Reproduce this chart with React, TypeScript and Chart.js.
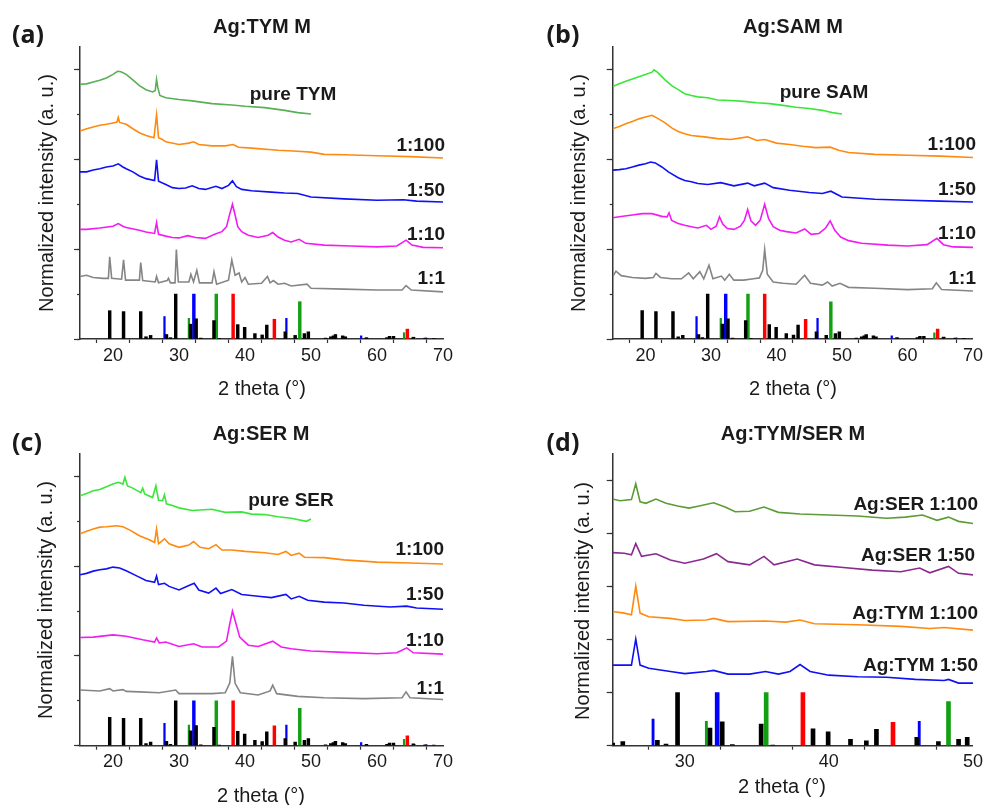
import React, { useEffect, useRef } from "react";
import { Chart, registerables } from "chart.js";

Chart.register(...registerables);

type P = [number, number];

// ---- reference stick pattern (2θ, relative height) ----
const STICK_BLACK: P[] = [
  [19.5, 0.63], [21.6, 0.61], [24.2, 0.61], [25.0, 0.05], [25.7, 0.08], [28.1, 0.1], [28.7, 0.03],
  [29.5, 1.0], [31.75, 0.33], [32.6, 0.45], [33.3, 0.02], [35.3, 0.41], [36.1, 0.01], [38.9, 0.32],
  [39.95, 0.26], [41.5, 0.12], [42.6, 0.09], [43.3, 0.31], [46.1, 0.16], [47.6, 0.08], [49.0, 0.12],
  [49.6, 0.16], [52.2, 0.02], [53.0, 0.05], [53.4, 0.07], [53.7, 0.1], [54.8, 0.07], [55.2, 0.05],
  [58.4, 0.03], [61.5, 0.03], [61.9, 0.06], [62.5, 0.06], [65.5, 0.04], [67.3, 0.02], [68.6, 0.01],
];
const STICK_BLUE: P[] = [[27.8, 0.5], [32.25, 1.0], [46.27, 0.46], [57.6, 0.07], [67.5, 0.02]];
const STICK_GREEN: P[] = [[31.5, 0.46], [35.65, 1.0], [48.3, 0.83], [64.1, 0.14], [65.7, 0.03]];
const STICK_RED: P[] = [[38.2, 1.0], [44.45, 0.44], [64.6, 0.22]];

// ---- panel (a) Ag:TYM M ----
const A_PURE: P[] = [[15,5.67],[16,5.68],[17,5.72],[18,5.76],[19,5.81],[20,5.89],[20.7,5.96],[21.2,5.95],[22,5.89],[23,5.77],[24,5.64],[25,5.55],[26,5.5],[26.4,5.53],[26.6,5.78],[26.8,5.59],[27.1,5.42],[28,5.37],[30,5.33],[32,5.3],[35,5.24],[38,5.21],[40,5.18],[43,5.15],[46,5.09],[48,5.04],[50,5.01]];
const A_100: P[] = [[15,4.63],[16,4.68],[17,4.72],[18,4.76],[19,4.78],[20,4.81],[20.6,4.83],[20.8,4.93],[21,4.82],[22,4.78],[23,4.68],[24,4.59],[25,4.53],[26.2,4.48],[26.6,4.99],[26.9,4.48],[27.5,4.44],[28,4.39],[30,4.33],[31.5,4.36],[32.2,4.39],[33,4.33],[35,4.3],[37,4.3],[38.2,4.33],[39,4.27],[41,4.25],[45,4.2],[48,4.18],[50,4.16],[52,4.11],[55,4.1],[60,4.08],[65,4.06],[70,4.03]];
const A_50: P[] = [[15,3.72],[16,3.72],[17,3.76],[18,3.79],[19,3.83],[20,3.85],[20.8,3.9],[21.5,3.83],[22,3.79],[23,3.72],[24,3.63],[25,3.57],[26.3,3.53],[26.6,3.99],[26.9,3.51],[28,3.44],[29,3.37],[30,3.35],[31,3.36],[32,3.41],[33,3.35],[34,3.33],[35.6,3.4],[36.5,3.35],[37.5,3.42],[38.1,3.52],[38.7,3.39],[39.5,3.33],[41,3.3],[44,3.27],[46,3.25],[48,3.24],[49,3.2],[50,3.16],[55,3.12],[60,3.09],[64,3.1],[66,3.07],[70,3.05]];
const A_10: P[] = [[15,2.44],[16,2.44],[18,2.47],[20,2.51],[20.8,2.57],[21.5,2.51],[22,2.48],[24,2.42],[25,2.38],[26.3,2.35],[26.6,2.59],[26.9,2.33],[28,2.29],[29,2.26],[30,2.25],[31.3,2.3],[32.5,2.26],[34,2.24],[35.4,2.33],[36.5,2.39],[37.2,2.5],[37.7,2.79],[38.1,3.0],[38.5,2.76],[38.9,2.5],[39.5,2.39],[40.5,2.31],[42,2.26],[43.5,2.31],[44.2,2.37],[45,2.27],[46,2.2],[47,2.16],[48.2,2.22],[49.2,2.13],[52,2.09],[56,2.07],[60,2.05],[63,2.07],[64.4,2.2],[65.3,2.09],[67,2.04],[70,2.03]];
const A_1: P[] = [[15,1.39],[16,1.42],[17,1.37],[18.5,1.35],[19.3,1.35],[19.5,1.83],[19.8,1.35],[21.3,1.33],[21.6,1.76],[21.9,1.31],[24,1.31],[24.2,1.7],[24.5,1.3],[26.4,1.27],[26.6,1.39],[26.9,1.25],[28.2,1.3],[28.4,1.35],[28.7,1.25],[29.4,1.25],[29.6,1.99],[29.9,1.27],[31.5,1.27],[31.8,1.44],[32.2,1.27],[32.7,1.53],[33.1,1.25],[35,1.25],[35.3,1.5],[35.7,1.22],[37.5,1.31],[38,1.76],[38.5,1.42],[39.1,1.47],[39.5,1.27],[40,1.37],[40.5,1.22],[42.5,1.24],[43.4,1.39],[43.8,1.25],[44.3,1.3],[45,1.22],[46,1.24],[47,1.18],[49.4,1.22],[50,1.13],[55,1.11],[60,1.09],[63.8,1.09],[64.4,1.19],[65.2,1.09],[70,1.05]];

// ---- panel (b) Ag:SAM M ----
const B_PURE: P[] = [[15,5.62],[16,5.68],[17,5.74],[18,5.79],[19,5.84],[20,5.89],[21,5.94],[21.3,5.99],[21.8,5.94],[22.5,5.84],[23,5.77],[24,5.64],[25,5.55],[26,5.46],[27,5.42],[28,5.39],[29.5,5.37],[31,5.32],[33,5.31],[35,5.29],[37,5.26],[39,5.24],[41,5.2],[43,5.16],[45,5.13],[47,5.09],[48.5,5.04],[50,5.01]];
const B_100: P[] = [[15,4.68],[16,4.73],[17,4.79],[18,4.84],[19,4.9],[20,4.94],[21,4.98],[22,4.9],[23,4.81],[24,4.7],[25,4.62],[26,4.57],[27,4.53],[29,4.5],[31,4.46],[33,4.44],[35.6,4.5],[37,4.42],[38.2,4.44],[40,4.36],[42,4.33],[44,4.29],[46,4.26],[48.2,4.27],[49.5,4.2],[51,4.15],[55,4.11],[60,4.09],[65,4.07],[70,4.04]];
const B_50: P[] = [[15,3.76],[16,3.77],[17,3.79],[18,3.83],[19,3.87],[20,3.9],[20.8,3.94],[21.5,3.92],[22.5,3.83],[23.5,3.72],[25,3.59],[26,3.53],[27,3.5],[28,3.46],[29.5,3.44],[31.5,3.48],[33.5,3.41],[35.6,3.47],[36.6,3.41],[38.2,3.47],[39.5,3.37],[42,3.31],[45,3.26],[47,3.24],[48.3,3.29],[50,3.16],[55,3.11],[60,3.09],[65,3.07],[70,3.05]];
const B_10: P[] = [[15,2.7],[16,2.72],[18,2.76],[19.5,2.79],[21,2.79],[22.5,2.73],[23.3,2.72],[23.6,2.81],[24,2.64],[25,2.57],[26,2.53],[27,2.5],[28,2.47],[29.3,2.53],[30,2.44],[30.8,2.51],[31.3,2.72],[31.8,2.56],[32.5,2.46],[33.5,2.44],[34.5,2.51],[35.1,2.64],[35.6,2.88],[36.1,2.63],[36.8,2.53],[37.5,2.64],[38.2,3.0],[38.8,2.68],[39.5,2.5],[40.5,2.42],[41.5,2.39],[43,2.36],[44.3,2.45],[45.3,2.33],[46.5,2.35],[47.5,2.47],[48.2,2.63],[48.9,2.42],[49.8,2.27],[51,2.19],[53,2.13],[57,2.09],[60,2.07],[63,2.1],[64.5,2.24],[65.5,2.1],[67,2.05],[70,2.04]];
const B_1: P[] = [[15,1.39],[15.5,1.51],[16.3,1.41],[18,1.37],[20,1.35],[21.2,1.37],[21.6,1.46],[22.3,1.37],[24,1.34],[25.5,1.34],[26.6,1.47],[27.3,1.34],[28.3,1.5],[28.9,1.34],[29.7,1.64],[30.3,1.34],[31.6,1.4],[32.1,1.31],[32.8,1.44],[33.5,1.31],[35,1.31],[36.5,1.34],[37.4,1.36],[37.9,1.53],[38.2,1.99],[38.6,1.44],[39.5,1.27],[41,1.24],[43,1.22],[44.3,1.42],[45.2,1.24],[47,1.2],[47.8,1.27],[48.5,1.18],[49.7,1.24],[51,1.15],[55,1.13],[60,1.1],[63.8,1.12],[64.4,1.25],[65.2,1.1],[70,1.07]];

// ---- panel (c) Ag:SER M ----
const C_PURE: P[] = [[15,5.57],[16,5.62],[17,5.68],[18,5.71],[19,5.77],[20,5.83],[20.8,5.87],[21.5,5.83],[21.8,5.98],[22.2,5.79],[23,5.74],[24.2,5.64],[24.5,5.74],[24.8,5.61],[26,5.53],[26.5,5.79],[26.9,5.47],[27.5,5.46],[27.8,5.59],[28.1,5.39],[29,5.35],[30,5.3],[32,5.24],[35,5.27],[37,5.2],[39.5,5.21],[41,5.16],[43,5.15],[45,5.1],[47,5.07],[49.3,5.0],[50,5.05]];
const C_100: P[] = [[15,4.72],[16,4.78],[17,4.83],[18,4.87],[19,4.88],[20.5,4.9],[21.5,4.88],[22.5,4.81],[24,4.68],[25.5,4.59],[26.3,4.53],[26.6,4.83],[26.9,4.5],[27.8,4.61],[28.5,4.5],[30,4.42],[31.5,4.47],[32.2,4.55],[33.2,4.42],[34.5,4.39],[35.6,4.48],[36.5,4.36],[38,4.36],[40,4.33],[43,4.3],[45,4.26],[46.2,4.33],[47,4.24],[48.2,4.29],[49,4.2],[52,4.19],[55,4.14],[60,4.09],[65,4.07],[70,4.05]];
const C_50: P[] = [[15,3.81],[16,3.84],[17,3.89],[18,3.92],[19,3.94],[20,3.98],[21,3.96],[22,3.9],[23.5,3.79],[25,3.68],[26.3,3.64],[26.6,3.78],[26.9,3.59],[27.8,3.62],[28.5,3.55],[30,3.47],[31.5,3.57],[32.3,3.62],[33,3.47],[34.5,3.4],[35.6,3.51],[36.3,3.39],[38,3.48],[39.5,3.37],[42,3.33],[44,3.3],[46.2,3.37],[47,3.27],[48.2,3.33],[49.5,3.24],[52,3.2],[55,3.18],[58,3.13],[62,3.09],[64.5,3.11],[66,3.07],[70,3.04]];
const C_10: P[] = [[15,2.41],[17,2.42],[20,2.47],[22,2.44],[24.5,2.36],[26.3,2.31],[26.6,2.4],[27,2.29],[28,2.31],[30,2.21],[32.2,2.27],[33.5,2.2],[36,2.2],[37.2,2.33],[37.7,2.72],[38.1,3.0],[38.5,2.79],[39.2,2.42],[40.5,2.24],[42,2.21],[44.2,2.33],[45.5,2.2],[47,2.16],[50,2.11],[55,2.08],[60,2.05],[63,2.07],[64.5,2.18],[65.5,2.07],[70,2.04]];
const C_1: P[] = [[15,1.24],[18,1.22],[19.5,1.27],[20,1.22],[21.5,1.25],[22,1.21],[24,1.2],[27,1.18],[29.5,1.24],[30,1.16],[33,1.16],[35,1.16],[37,1.18],[37.7,1.4],[38.1,1.99],[38.5,1.39],[39.3,1.18],[42,1.13],[43.8,1.22],[44.2,1.35],[44.8,1.16],[48,1.1],[52,1.07],[58,1.05],[63.8,1.07],[64.4,1.2],[65,1.07],[70,1.03]];

// ---- panel (d) Ag:TYM/SER M ----
const D_SER100: P[] = [[25,4.65],[25.5,4.62],[26.3,4.64],[26.6,4.94],[26.9,4.6],[27.3,4.57],[28,4.65],[28.7,4.57],[29.5,4.52],[30.3,4.48],[31,4.52],[32,4.58],[32.8,4.5],[33.5,4.41],[34.5,4.42],[35.5,4.5],[36.5,4.4],[38,4.37],[40,4.35],[42,4.33],[44,4.29],[45.3,4.31],[46.5,4.35],[47.5,4.25],[48.3,4.31],[49,4.23],[50,4.19]];
const D_SER50: P[] = [[25,3.64],[25.8,3.63],[26.3,3.6],[26.6,3.81],[27,3.57],[28,3.62],[29,3.5],[30,3.44],[31.3,3.52],[32.2,3.62],[33,3.47],[34.5,3.41],[35.5,3.57],[36.2,3.41],[37.8,3.52],[39,3.41],[41,3.36],[43,3.31],[45,3.28],[46.3,3.35],[47,3.26],[48.3,3.38],[49,3.25],[50,3.22]];
const D_TYM100: P[] = [[25,2.53],[25.8,2.5],[26.3,2.47],[26.6,3.01],[26.9,2.5],[27.5,2.43],[29,2.4],[30,2.36],[31.5,2.37],[32,2.4],[33,2.34],[35.6,2.35],[37,2.33],[38,2.37],[39,2.3],[42,2.28],[45,2.25],[47,2.21],[48,2.23],[50,2.18]];
const D_TYM50: P[] = [[25,1.52],[25.8,1.52],[26.3,1.52],[26.6,2.01],[26.9,1.52],[27.5,1.46],[29,1.4],[30,1.36],[31.5,1.4],[32,1.42],[33,1.35],[34.5,1.35],[35.6,1.4],[36.5,1.35],[37.3,1.4],[38,1.53],[38.7,1.4],[40,1.33],[42,1.3],[44,1.29],[46,1.25],[48,1.23],[48.3,1.25],[49,1.18],[50,1.18]];

const C_GREEN_DARK = "#5aae55";
const C_GREEN_LIGHT = "#3be63b";
const C_ORANGE = "#ff8a10";
const C_BLUE = "#1010f5";
const C_MAGENTA = "#f21cf2";
const C_GRAY = "#858585";
const C_OLIVE = "#5c9c34";
const C_PURPLE = "#8a2a8e";

const FONT = "'Liberation Sans', Arial, Helvetica, sans-serif";

type Trace = { data: P[]; color: string };
type PanelProps = {
  left: number; top: number; width: number; height: number;
  pad: { left: number; right: number; top: number; bottom: number };
  xMin: number; xMax: number; yMax: number;
  majorStep: number; minorStep: number;
  traces: Trace[];
  thick: number; thin: number;
};

function Panel(p: PanelProps) {
  const ref = useRef<HTMLCanvasElement | null>(null);
  useEffect(() => {
    if (!ref.current) return;
    const inRange = (arr: P[]) => arr.filter(([x]) => x >= p.xMin && x <= p.xMax);
    const xy = (arr: P[]) => arr.map(([x, y]) => ({ x, y }));
    const bar = (arr: P[], color: string, w: number) => ({
      type: "bar" as const,
      data: xy(inRange(arr)),
      backgroundColor: color,
      borderWidth: 0,
      barThickness: w,
      grouped: false,
      yAxisID: "y",
    });
    const datasets: any[] = [
      ...p.traces.map((t) => ({
        type: "line" as const,
        data: xy(t.data),
        borderColor: t.color,
        borderWidth: 1.6,
        pointRadius: 0,
        tension: 0,
        fill: false,
        yAxisID: "y",
      })),
      bar(STICK_BLACK, "#000000", p.thick),
      bar(STICK_BLUE.filter(([, h]) => h >= 0.8), "#0000ff", p.thick),
      bar(STICK_BLUE.filter(([, h]) => h < 0.8), "#0000ff", p.thin),
      bar(STICK_GREEN.filter(([, h]) => h >= 0.8), "#12a012", p.thick),
      bar(STICK_GREEN.filter(([, h]) => h < 0.8), "#12a012", p.thin),
      bar(STICK_RED, "#ff0000", p.thick),
    ];
    const chart = new Chart(ref.current, {
      type: "line",
      data: { datasets },
      options: {
        animation: false,
        responsive: false,
        maintainAspectRatio: false,
        events: [],
        layout: { padding: p.pad },
        plugins: { legend: { display: false }, tooltip: { enabled: false } },
        scales: {
          x: {
            type: "linear",
            min: p.xMin,
            max: p.xMax,
            offset: false,
            ticks: {
              stepSize: 5,
              autoSkip: false,
              maxRotation: 0,
              padding: 2,
              color: "#1a1a1a",
              font: { family: FONT, size: 18 },
              callback: (v: any) => (Math.round(Number(v)) % 10 === 0 ? String(v) : ""),
            },
            grid: { display: true, drawOnChartArea: false, drawTicks: true, tickLength: 4, color: "#333", tickWidth: 1.2 },
            border: { display: true, color: "#333", width: 1.5 },
            afterFit: (s: any) => { s.height = 30; },
          },
          y: {
            type: "linear",
            position: "left",
            weight: 1,
            min: 0,
            max: p.yMax,
            ticks: { display: false, stepSize: p.majorStep, includeBounds: false },
            grid: { display: true, drawOnChartArea: false, drawTicks: true, tickLength: 6, color: "#333", tickWidth: 1.2 },
            border: { display: true, color: "#333", width: 1.5 },
            afterFit: (s: any) => { s.width = 6; },
          },
          y2: {
            type: "linear",
            position: "left",
            weight: 0,
            min: 0,
            max: p.yMax,
            ticks: { display: false, stepSize: p.minorStep, includeBounds: false },
            grid: { display: true, drawOnChartArea: false, drawTicks: true, tickLength: 3, color: "#333", tickWidth: 1.2 },
            border: { display: false },
            afterFit: (s: any) => { s.width = 0; },
          },
        },
      } as any,
    });
    return () => chart.destroy();
  }, []);
  return (
    <canvas
      ref={ref}
      width={p.width}
      height={p.height}
      style={{ position: "absolute", left: p.left, top: p.top, width: p.width, height: p.height }}
    />
  );
}

type TextProps = { x: number; y: number; text: string; size?: number; bold?: boolean; align?: "center" | "right"; family?: string };
function T({ x, y, text, size = 19, bold = true, align = "center", family = FONT }: TextProps) {
  const tx = align === "center" ? "-50%" : "-100%";
  return (
    <div
      style={{
        position: "absolute",
        left: x,
        top: y,
        transform: `translate(${tx}, -50%)`,
        whiteSpace: "nowrap",
        fontFamily: family,
        fontSize: size,
        fontWeight: bold ? 700 : 400,
        color: "#1a1a1a",
        lineHeight: 1,
        pointerEvents: "none",
      }}
    >
      {text}
    </div>
  );
}

function RotText({ x, y, text }: { x: number; y: number; text: string }) {
  return (
    <div
      style={{
        position: "absolute",
        left: x,
        top: y,
        transform: "translate(-50%, -50%) rotate(-90deg)",
        whiteSpace: "nowrap",
        fontFamily: FONT,
        fontSize: 20,
        color: "#1a1a1a",
        lineHeight: 1,
      }}
    >
      {text}
    </div>
  );
}

export default function App() {
  const topPad = { left: 74, right: 49, top: 47, bottom: 31 };
  const YT = "Normalized intensity (a. u.)";
  const XT = "2 theta (°)";
  const LETTER = "'Open Sans', 'Liberation Sans', sans-serif";
  return (
    <div style={{ position: "absolute", left: 0, top: 0, width: 985, height: 805, background: "#fff", overflow: "hidden" }}>
      <Panel left={0} top={0} width={492} height={400} pad={topPad} xMin={15} xMax={70} yMax={6.5} majorStep={2} minorStep={1}
        traces={[{ data: A_PURE, color: C_GREEN_DARK }, { data: A_100, color: C_ORANGE }, { data: A_50, color: C_BLUE }, { data: A_10, color: C_MAGENTA }, { data: A_1, color: C_GRAY }]}
        thick={2.8} thin={1.6} />
      <Panel left={492} top={0} width={493} height={400} pad={{ left: 114.7, right: 11, top: 47, bottom: 31 }} xMin={15} xMax={70} yMax={6.5} majorStep={2} minorStep={1}
        traces={[{ data: B_PURE, color: C_GREEN_LIGHT }, { data: B_100, color: C_ORANGE }, { data: B_50, color: C_BLUE }, { data: B_10, color: C_MAGENTA }, { data: B_1, color: C_GRAY }]}
        thick={2.8} thin={1.6} />
      <Panel left={0} top={400} width={492} height={405} pad={{ left: 74, right: 49, top: 54, bottom: 29.3 }} xMin={15} xMax={70} yMax={6.5} majorStep={2} minorStep={1}
        traces={[{ data: C_PURE, color: C_GREEN_LIGHT }, { data: C_100, color: C_ORANGE }, { data: C_50, color: C_BLUE }, { data: C_10, color: C_MAGENTA }, { data: C_1, color: C_GRAY }]}
        thick={2.8} thin={1.6} />
      <Panel left={492} top={400} width={493} height={405} pad={{ left: 114.7, right: 10.7, top: 54, bottom: 29.3 }} xMin={25} xMax={50} yMax={5.5} majorStep={1} minorStep={1}
        traces={[{ data: D_SER100, color: C_OLIVE }, { data: D_SER50, color: C_PURPLE }, { data: D_TYM100, color: C_ORANGE }, { data: D_TYM50, color: C_BLUE }]}
        thick={4} thin={2.2} />

      {/* panel letters */}
      <T x={28} y={33} text="(a)" size={25} family={LETTER} />
      <T x={563} y={33} text="(b)" size={25} family={LETTER} />
      <T x={27} y={441} text="(c)" size={25} family={LETTER} />
      <T x={563} y={441} text="(d)" size={25} family={LETTER} />

      {/* titles */}
      <T x={262} y={26} text="Ag:TYM M" size={20} />
      <T x={793} y={26} text="Ag:SAM M" size={20} />
      <T x={261} y={433} text="Ag:SER M" size={20} />
      <T x={793} y={433} text="Ag:TYM/SER M" size={20} />

      {/* axis titles */}
      <T x={262} y={388} text={XT} size={20} bold={false} />
      <T x={793} y={388} text={XT} size={20} bold={false} />
      <T x={261} y={795} text={XT} size={20} bold={false} />
      <T x={782} y={786} text={XT} size={20} bold={false} />
      <RotText x={46} y={193} text={YT} />
      <RotText x={578} y={193} text={YT} />
      <RotText x={45} y={600} text={YT} />
      <RotText x={582} y={601} text={YT} />

      {/* trace labels (a) */}
      <T x={293} y={93} text="pure TYM" />
      <T x={445} y={144} text="1:100" align="right" />
      <T x={445} y={189} text="1:50" align="right" />
      <T x={445} y={233} text="1:10" align="right" />
      <T x={445} y={277} text="1:1" align="right" />
      {/* (b) */}
      <T x={824} y={91} text="pure SAM" />
      <T x={976} y={143} text="1:100" align="right" />
      <T x={976} y={188} text="1:50" align="right" />
      <T x={976} y={232} text="1:10" align="right" />
      <T x={976} y={277} text="1:1" align="right" />
      {/* (c) */}
      <T x={291} y={499} text="pure SER" />
      <T x={444} y={548} text="1:100" align="right" />
      <T x={444} y={593} text="1:50" align="right" />
      <T x={444} y={639} text="1:10" align="right" />
      <T x={444} y={687} text="1:1" align="right" />
      {/* (d) */}
      <T x={978} y={503} text="Ag:SER 1:100" align="right" />
      <T x={975} y={554} text="Ag:SER 1:50" align="right" />
      <T x={978} y={612} text="Ag:TYM 1:100" align="right" />
      <T x={978} y={664} text="Ag:TYM 1:50" align="right" />
    </div>
  );
}
